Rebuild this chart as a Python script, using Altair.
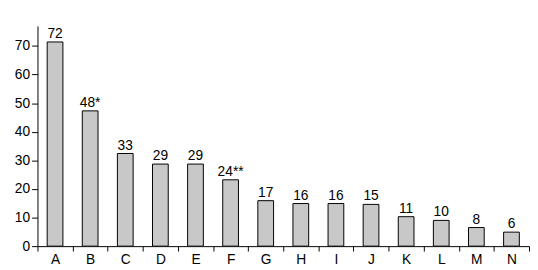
import altair as alt
import pandas as pd

categories = ["A", "B", "C", "D", "E", "F", "G", "H", "I", "J", "K", "L", "M", "N"]
values = [71.4, 47.3, 32.4, 28.7, 28.7, 23.2, 15.9, 14.9, 14.9, 14.6, 10.3, 9.0, 6.5, 4.9]
labels = ["72", "48*", "33", "29", "29", "24**", "17", "16", "16", "15", "11", "10", "8", "6"]
y_ticks = [0, 10, 20, 30, 40, 50, 60, 70]

df = pd.DataFrame({"cat": categories, "val": values, "lab": labels})

FONT = "Liberation Sans"

x = alt.X("cat:N", sort=categories, title=None,
          scale=alt.Scale(paddingInner=0, paddingOuter=0),
          axis=alt.Axis(labelAngle=0, tickBand="extent", tickSize=5, labelPadding=2,
                        labelFontSize=14, labelFont=FONT, labelColor="black",
                        domainColor="black", tickColor="black", grid=False))
y = alt.Y("val:Q", title=None,
          scale=alt.Scale(domain=[0, 77], nice=False, zero=True),
          axis=alt.Axis(values=y_ticks, tickSize=6, labelPadding=2, labelOverlap=False,
                        labelFontSize=14, labelFont=FONT, labelColor="black",
                        domainColor="black", tickColor="black", grid=False))

base = alt.Chart(df).encode(x=x, y=y)
bars = base.mark_bar(size=16, fill="#c8c8c8", stroke="black", strokeWidth=1)
text = base.mark_text(baseline="alphabetic", dy=-4, fontSize=14, font=FONT, color="black").encode(
    text="lab:N")

chart = (bars + text).properties(
    width=500, height=224,
    padding={"left": 6, "top": 16, "right": 0, "bottom": 0},
).configure_view(stroke=None)

chart.save("out.html", embed_options={"renderer": "svg", "actions": False})
